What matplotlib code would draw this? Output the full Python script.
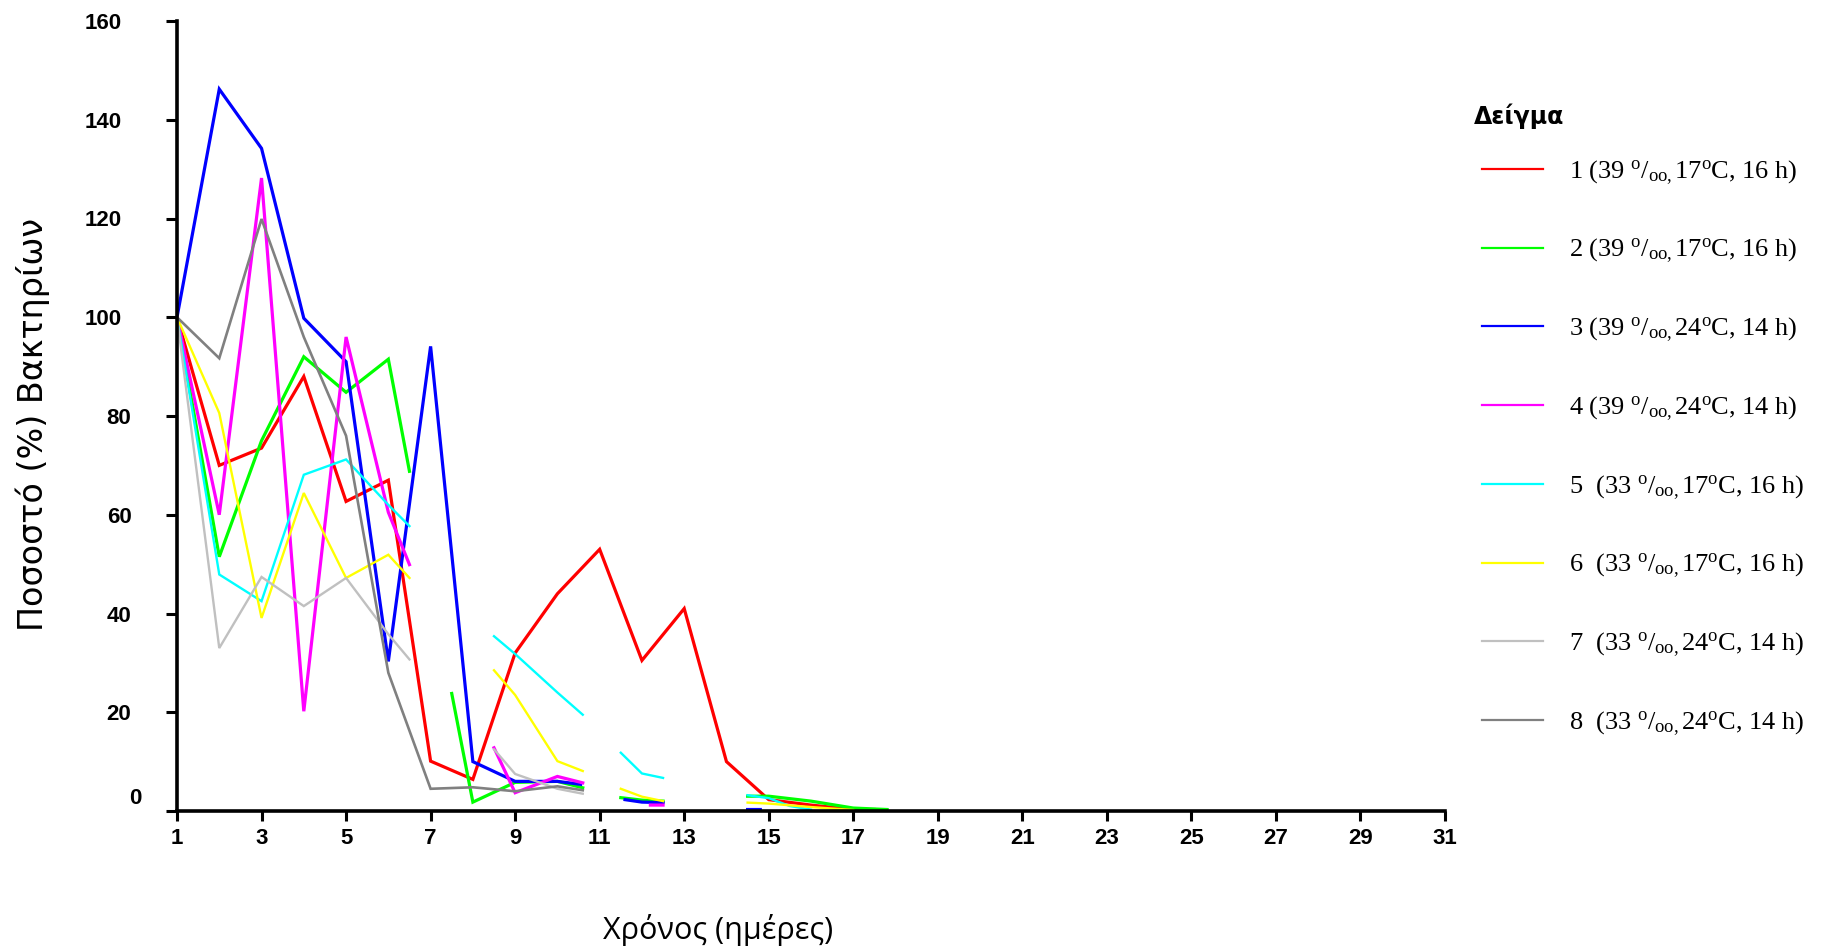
import numpy as np
import matplotlib
matplotlib.use("Agg")
import matplotlib.pyplot as plt
from matplotlib.font_manager import FontProperties
from matplotlib.lines import Line2D
from matplotlib.transforms import ScaledTranslation

nan = np.nan

# readings per sample, gaps (nan) where the original has no line
x1 = [1, 2, 3, 4, 5, 6, 7, 8, 9, 10, 11, 12, 13, 14, 15, 16, 17, 17.5]
y1 = [100, 70, 73.5, 88, 62.7, 67, 10.1, 6.4, 32, 44, 53, 30.5, 41, 10, 2.3, 1.2, 0.3, 0.3]

x2 = [1, 2, 3, 4, 5, 6, 6.5, nan, 7.5, 8, 9, 10, 10.6, nan, 11.5, 12, 12.5, nan, 14.5, 15, 16, 17, 17.8]
y2 = [100, 51.5, 75, 92, 84.8, 91.5, 68.8, nan, 23.8, 1.8, 5.8, 6.0, 4.7, nan, 2.7, 2.2, 2.0, nan, 3.0, 3.0, 2.0, 0.6, 0.3]

x3 = [1, 2, 3, 4, 5, 6, 7, 8, 9, 10, 10.55, nan, 11.6, 12, 12.5, nan, 14.5, 14.8]
y3 = [100, 146.2, 134.2, 99.8, 91, 30.3, 94.1, 10, 6.0, 6.0, 5.4, nan, 2.3, 1.8, 1.7, nan, 0.3, 0.3]

x4 = [1, 2, 3, 4, 5, 6, 6.5, nan, 8.5, 9, 10, 10.6, nan, 12.2, 12.5]
y4 = [100, 60, 128.2, 20.2, 96, 60.5, 49.9, nan, 12.8, 3.7, 7.0, 5.7, nan, 1.2, 1.2]

x5 = [1, 2, 3, 4, 5, 6, 6.5, nan, 8.5, 9, 10, 10.6, nan, 11.5, 12, 12.5, nan, 14.5, 15, 15.5, 16]
y5 = [100, 47.9, 42.5, 68.1, 71.2, 62, 57.7, nan, 35.4, 31.8, 24.0, 19.5, nan, 11.8, 7.6, 6.7, nan, 3.2, 2.6, 1.0, 0.3]

x6 = [1, 2, 3, 4, 5, 6, 6.5, nan, 8.5, 9, 10, 10.6, nan, 11.5, 12, 12.5, nan, 14.5, 15, 16, 17]
y6 = [100, 80.6, 39.1, 64.4, 47.2, 51.9, 47.2, nan, 28.5, 23.5, 10.1, 8.1, nan, 4.5, 2.9, 2.0, nan, 1.7, 1.5, 0.8, 0.2]

x7 = [1, 2, 3, 4, 5, 6, 6.5, nan, 8.5, 9, 10, 10.6]
y7 = [100, 33, 47.4, 41.5, 47.2, 35.8, 30.7, nan, 12.5, 7.5, 4.5, 3.5]

x8 = [1, 2, 3, 4, 5, 6, 7, 8, 9, 10, 10.6]
y8 = [100, 91.7, 119.9, 96, 76, 28, 4.5, 4.8, 4.0, 5.0, 4.2]

series_x = [x1, x2, x3, x4, x5, x6, x7, x8]
series_y = [y1, y2, y3, y4, y5, y6, y7, y8]
colors = ["#ff0000", "#00ff00", "#0000ff", "#ff00ff",
          "#00ffff", "#ffff00", "#c0c0c0", "#808080"]
widths = [2.3, 2.3, 2.3, 2.3, 1.7, 1.7, 1.7, 1.9]

o = r"$^{\mathrm{o}}$"
oo = r"$_{\mathrm{oo},}$"
labels = [
    f"1 (39 {o}/{oo}17{o}C, 16 h)",
    f"2 (39 {o}/{oo}17{o}C, 16 h)",
    f"3 (39 {o}/{oo}24{o}C, 14 h)",
    f"4 (39 {o}/{oo}24{o}C, 14 h)",
    f"5  (33 {o}/{oo}17{o}C, 16 h)",
    f"6  (33 {o}/{oo}17{o}C, 16 h)",
    f"7  (33 {o}/{oo}24{o}C, 14 h)",
    f"8  (33 {o}/{oo}24{o}C, 14 h)",
]

x_ticks = list(range(1, 32, 2))
y_ticks = list(range(0, 161, 20))

plt.rcParams["mathtext.fontset"] = "custom"
plt.rcParams["mathtext.rm"] = "Liberation Serif"
plt.rcParams["mathtext.it"] = "Liberation Serif:italic"

W, H = 1823, 951
fig = plt.figure(figsize=(W / 100, H / 100), dpi=100)
ax = fig.add_axes([177 / W, 1 - 811 / H, (1445 - 177) / W, (811 - 21) / H])

for xs, ys, c, lw in zip(series_x, series_y, colors, widths):
    ax.plot(xs, ys, color=c, lw=lw, solid_joinstyle="miter")

ax.set_xlim(1, 31)
ax.set_ylim(0, 160)
for side in ("top", "right"):
    ax.spines[side].set_visible(False)
for side in ("left", "bottom"):
    ax.spines[side].set_linewidth(2.6)

tick_font = dict(family="Liberation Sans", weight="bold", size=16)
ax.set_xticks(x_ticks)
ax.set_xticklabels([str(t) for t in x_ticks], **tick_font)
ax.set_yticks(y_ticks)
ax.set_yticklabels([str(t) for t in y_ticks], **tick_font)
ax.tick_params(axis="x", length=7, width=2.2, pad=5)
ax.tick_params(axis="y", length=8, width=2.2, pad=32)

# original labels shift right as they get shorter, and the 0 sits higher
for lab in ax.get_yticklabels():
    n = len(lab.get_text())
    dx = (3 - n) * 7.2 / 72
    dy = 11 / 72 if lab.get_text() == "0" else 0
    lab.set_transform(lab.get_transform() + ScaledTranslation(dx, dy, fig.dpi_scale_trans))

ax.set_xlabel("Χρόνος (ημέρες)", family="Open Sans", size=22, va="center")
ax.xaxis.set_label_coords((718 - 177) / 1268, (811 - 930) / 790)
ax.set_ylabel("Ποσοστό (%) Βακτηρίων", family="DejaVu Sans", size=24, va="center")
ax.yaxis.set_label_coords((33 - 177) / 1268, (811 - 424) / 790)

handles = [Line2D([], [], color=c, lw=1.6) for c in colors]
leg = ax.legend(
    handles, labels,
    loc="upper left",
    bbox_to_anchor=(1482 / W, 1 - 158 / H),
    bbox_transform=fig.transFigure,
    frameon=False,
    prop=FontProperties(family="Liberation Serif", size=19),
    handlelength=2.33,
    handletextpad=0.97,
    labelspacing=1.9,
    borderaxespad=0,
    borderpad=0,
)
fig.text(1474 / W, 1 - 116 / H, "Δείγμα", family="DejaVu Sans", weight="bold",
         size=17, ha="left", va="center")

fig.savefig("out.png", dpi=100)
